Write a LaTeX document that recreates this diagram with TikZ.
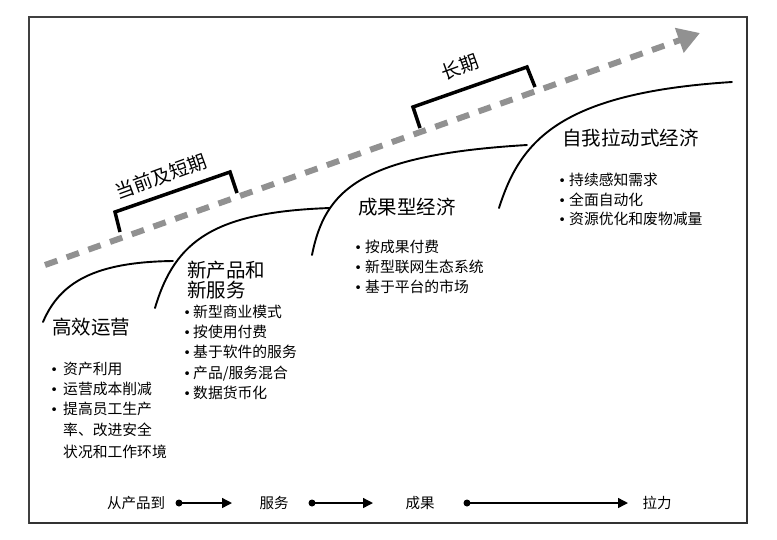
\documentclass[tikz,border=0pt]{standalone}
\usepackage{fontspec}
\newfontfamily\cjk{Noto Sans CJK SC}
\newfontfamily\dvsans{DejaVu Sans}
\usetikzlibrary{arrows.meta}
\definecolor{dashgray}{RGB}{145,145,145}
\newcommand\blt[2]{\makebox[#1][c]{\dvsans\fontsize{13}{16}\selectfont •}#2}
\begin{document}
\begin{tikzpicture}[x=1pt,y=-1pt,
  title/.style={font=\cjk\fontsize{19.5}{20}\selectfont, anchor=base west, inner sep=0pt},
  item/.style={font=\cjk\fontsize{14.8}{16}\selectfont, anchor=base west, inner sep=0pt},
  flowlabel/.style={font=\cjk\fontsize{14.5}{16}\selectfont, anchor=base, inner sep=0pt},
  termlabel/.style={font=\cjk\fontsize{19}{20}\selectfont, rotate=20, inner sep=0pt},
  curve/.style={line width=1.9pt, line cap=round},
  bracket/.style={line width=3.5pt, line join=miter},
  flow/.style={line width=1.4pt, -{Triangle[length=10pt,width=10pt]}},
  dot/.style={circle, fill, inner sep=0pt, minimum size=7pt},
  trend/.style={dashgray, line width=6pt, dash pattern=on 13pt off 10pt, -{Triangle[length=22pt,width=25pt]}},
]
\useasboundingbox (0,0) rectangle (777,539);
% frame
\draw[line width=1.2pt, black!75] (29,17) rectangle (747,523);
\draw[line width=2pt, black!80] (747,17) -- (747,523) -- (29,523);

% dashed trend arrow
\coordinate (ds) at (45,265);
\coordinate (de) at (700,33);
\draw[trend] (ds) -- (de);

% brackets
\draw[bracket] (120,232) -- (115,212) -- (230,172) -- (237,193);
\draw[bracket] (420,128) -- (413,107) -- (527,67) -- (535,87);
\node[termlabel] (short) at (161,176) {当前及短期};
\node[termlabel] (long) at (460,67) {长期};

% S-curves
\draw[curve] (43,322) .. controls (60,282) and (95,262) .. (173,261);
\draw[curve] (155,308) .. controls (175,240) and (215,212) .. (330,208);
\draw[curve] (312,255) .. controls (325,190) and (360,155) .. (527,145);
\draw[curve] (499,208) .. controls (520,142) and (558,93) .. (732,82);

% titles
\node[title] (t1) at (52,334.4) {高效运营};
\node[title] (t2a) at (187,277.4) {新产品和};
\node[title] (t2b) at (187,297.4) {新服务};
\node[title] (t3) at (358,214.4) {成果型经济};
\node[title] (t4) at (562,145.4) {自我拉动式经济};

% block 1
\node[item] (b1a) at (45,374.6) {\blt{18pt}{资产利用}};
\node[item] (b1b) at (45,394.6) {\blt{18pt}{运营成本削减}};
\node[item] (b1c) at (45,414.6) {\blt{18pt}{提高员工生产}};
\node[item] (b1d) at (63,435.6) {率、改进安全};
\node[item] (b1e) at (63,457.6) {状况和工作环境};

% block 2
\node[item] (b2a) at (181,317.6) {\blt{12pt}{新型商业模式}};
\node[item] (b2b) at (181,337.6) {\blt{12pt}{按使用付费}};
\node[item] (b2c) at (181,357.6) {\blt{12pt}{基于软件的服务}};
\node[item] (b2d) at (181,378.6) {\blt{12pt}{产品/服务混合}};
\node[item] (b2e) at (181,398.6) {\blt{12pt}{数据货币化}};

% block 3
\node[item] (b3a) at (351,252.6) {\blt{14pt}{按成果付费}};
\node[item] (b3b) at (351,272.6) {\blt{14pt}{新型联网生态系统}};
\node[item] (b3c) at (351,292.6) {\blt{14pt}{基于平台的市场}};

% block 4
\node[item] (b4a) at (555,185.6) {\blt{14pt}{持续感知需求}};
\node[item] (b4b) at (555,205.6) {\blt{14pt}{全面自动化}};
\node[item] (b4c) at (555,224.6) {\blt{14pt}{资源优化和废物减量}};

% bottom flow
\node[flowlabel] (f1) at (136,508.6) {从产品到};
\node[flowlabel] (f2) at (274,508.6) {服务};
\node[flowlabel] (f3) at (420,508.6) {成果};
\node[flowlabel] (f4) at (657,508.6) {拉力};
\node[dot] (d1) at (179,503) {};
\node[dot] (d2) at (312,503) {};
\node[dot] (d3) at (467,503) {};
\coordinate (e1) at (232,503);
\coordinate (e2) at (373,503);
\coordinate (e3) at (628,503);
\draw[flow] (d1.center) -- (e1);
\draw[flow] (d2.center) -- (e2);
\draw[flow] (d3.center) -- (e3);
\end{tikzpicture}
\end{document}
